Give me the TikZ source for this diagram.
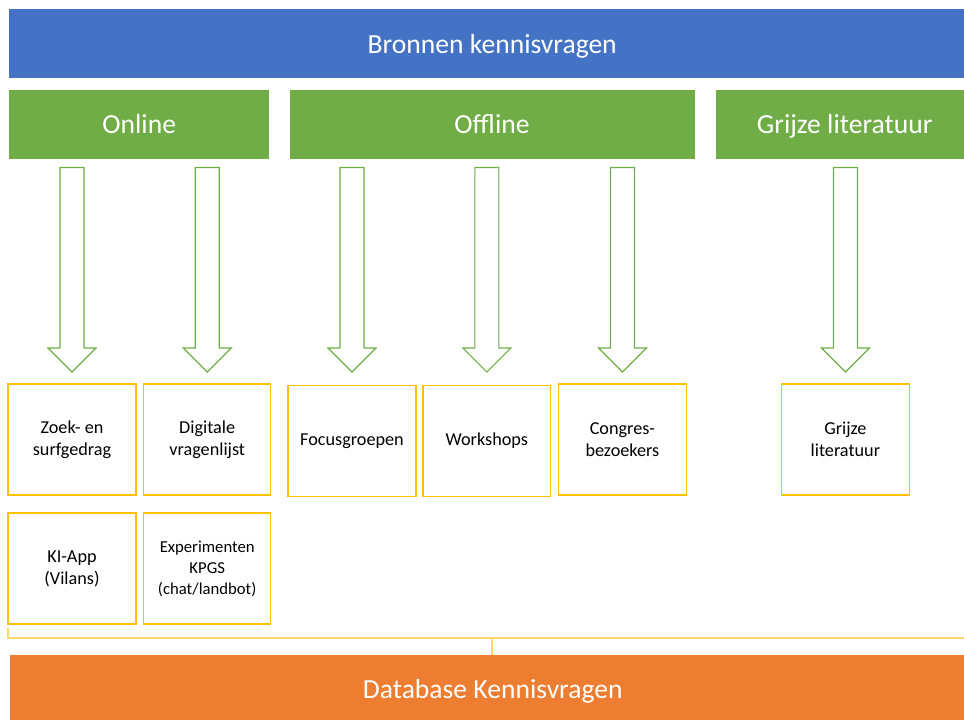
\documentclass[tikz,border=0pt]{standalone}
\usepackage{fontspec}
\setmainfont{Carlito}
\usetikzlibrary{calc}
\definecolor{hdrblue}{HTML}{4472C4}
\definecolor{hdrgreen}{HTML}{70AD47}
\definecolor{hdrorange}{HTML}{ED7D31}
\definecolor{boxgold}{HTML}{FFC000}
\definecolor{linegold}{HTML}{FFD966}
\tikzset{
  bar/.style={rectangle, anchor=north west, inner sep=0pt, text=white, text depth=0pt, font=\fontsize{27.6}{31}\selectfont},
  srcbox/.style={rectangle, draw=boxgold, line width=1.4pt, anchor=north west, inner sep=0pt,
     minimum width=128pt, minimum height=111pt, align=center, text=black, font=\fontsize{18.2}{22}\selectfont},
  barrow/.style={draw=hdrgreen, line width=1.2pt, fill=white, line join=miter},
  bracket/.style={draw=linegold, line width=1.2pt}
}
\newcommand\blockarr[1]{%
  \draw[barrow] ($(#1.north |- 0,167.5)+(-12,0)$) -- ($(#1.north |- 0,348)+(-12,0)$) --
    ($(#1.north |- 0,348)+(-24,0)$) -- (#1.north |- 0,372) --
    ($(#1.north |- 0,348)+(24,0)$) -- ($(#1.north |- 0,348)+(12,0)$) --
    ($(#1.north |- 0,167.5)+(12,0)$) -- cycle;}
\begin{document}
\begin{tikzpicture}[x=1pt, y=-1pt]
\useasboundingbox (0,0) rectangle (964,720);
% bars (right ends run past the page edge, as in the reference)
\node[bar, fill=hdrblue, minimum width=966pt, minimum height=69pt] (top) at (9,9) {Bronnen kennisvragen};
\node[bar, fill=hdrgreen, minimum width=260pt, minimum height=69pt] (online) at (9,89.5) {Online};
\node[bar, fill=hdrgreen, minimum width=405pt, minimum height=69pt] (offline) at (289.3,89.5) {Offline};
\node[bar, fill=hdrgreen, minimum width=257pt, minimum height=69pt] (grijs) at (716,89.5) {Grijze literatuur};
\node[bar, fill=hdrorange, minimum width=965pt, minimum height=67pt] (db) at (10,655) {Database Kennisvragen};
% source boxes
\node[srcbox] (zoek) at (7.3,383.3) {Zoek- en\\surfgedrag};
\node[srcbox, minimum width=127pt] (digi) at (143,383.3) {Digitale\\vragenlijst};
\node[srcbox] (focus) at (287.3,384.7) {Focusgroepen};
\node[srcbox, minimum width=127.7pt] (work) at (422.3,384.7) {Workshops};
\node[srcbox] (congres) at (557.7,383.3) {Congres-\\bezoekers};
\node[srcbox] (grijze) at (780.7,383.3) {Grijze\\literatuur};
\node[srcbox] (kiapp) at (7.3,512.3) {KI-App\\(Vilans)};
\node[srcbox, minimum width=127pt, font=\fontsize{16.7}{21}\selectfont] (exp) at (143,512.3) {Experimenten\\KPGS\\(chat/landbot)};
% block arrows
\blockarr{zoek}
\blockarr{digi}
\blockarr{focus}
\blockarr{work}
\blockarr{congres}
\blockarr{grijze}
% bracket
\coordinate (bl) at (8,628);
\coordinate (bm) at (492,638);
\coordinate (br) at (975,638);
\draw[bracket] (bl) -- (bl |- bm) -- (br);
\draw[bracket] (bm) -- (bm |- db.north);
\end{tikzpicture}
\end{document}
